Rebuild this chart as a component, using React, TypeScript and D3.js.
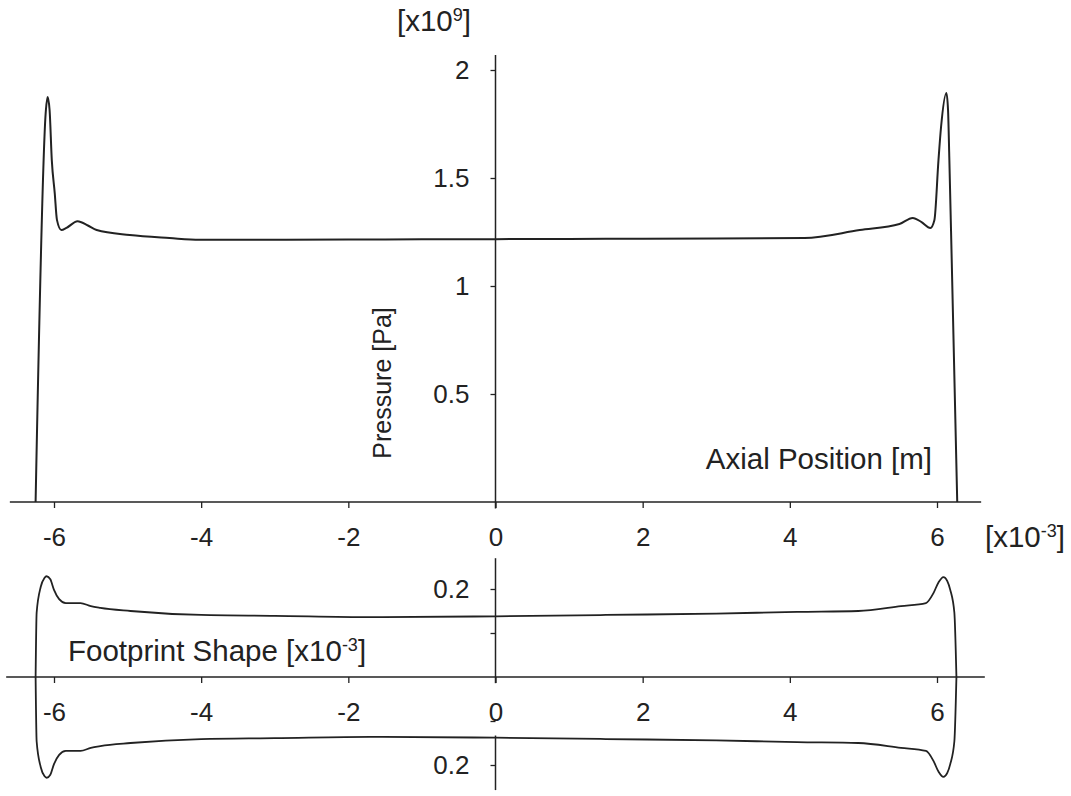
import React, { useRef, useEffect } from 'react';
import * as d3 from 'd3';

const W = 1071;
const H = 796;

// axial position [x10^-3 m] vs contact pressure [x10^9 Pa]
const pressureX = [
  -6.25, -6.11, -6.087, -6.06, -6.03, -5.99, -5.96, -5.9, -5.83, -5.68, -5.54, -5.42,
  -4.97, -4.43, -4.02, -3, -2, -1, 0, 1, 2, 3, 4.2, 4.95, 5.49, 5.67, 5.79, 5.91,
  5.965, 6.02, 6.055, 6.128, 6.15, 6.168, 6.2, 6.275,
];
const pressureY = [
  0, 1.815, 1.875, 1.815, 1.583, 1.43, 1.306, 1.259, 1.269, 1.3, 1.28, 1.259,
  1.236, 1.222, 1.214, 1.214, 1.215, 1.216, 1.217, 1.218, 1.219, 1.22, 1.222, 1.259, 1.287, 1.315, 1.296, 1.269,
  1.306, 1.583, 1.736, 1.894, 1.815, 1.583, 1.12, 0,
];

// footprint half width [x10^-3 m], drawn mirrored above and below
const footX = [
  -6.25, -6.236, -6.18, -6.13, -6.1, -6.05, -6.0, -5.93, -5.84, -5.64, -5.5, -5.37,
  -4.96, -4.0, -3.0, -1.7, 0, 1.5, 3, 4.1, 4.93, 5.51, 5.85, 5.95, 6.02, 6.087,
  6.14, 6.18, 6.236, 6.264,
];
const footHalf = [
  0, 0.146, 0.205, 0.225, 0.229, 0.222, 0.198, 0.177, 0.168, 0.168, 0.161, 0.157,
  0.15, 0.141, 0.139, 0.136, 0.138, 0.141, 0.144, 0.148, 0.15, 0.161, 0.168, 0.19, 0.215, 0.227,
  0.218, 0.198, 0.146, 0,
];

const xTicks = [-6, -4, -2, 0, 2, 4, 6];
const pressureTicks = [0.5, 1, 1.5, 2];
const footTicks = [-0.2, -0.1, 0.1, 0.2];

const FONT = '"Liberation Sans", Arial, Helvetica, sans-serif';
const INK = '#222';
const TICK_SIZE = 26;
const TITLE_SIZE = 29.5;

export default function App() {
  const ref = useRef<SVGSVGElement>(null);

  useEffect(() => {
    const svg = d3.select(ref.current);
    svg.selectAll('*').remove();

    const x = d3.scaleLinear().domain([-6, 6]).range([54, 937]);
    const yP = d3.scaleLinear().domain([0, 2]).range([502, 70]);
    const yF = d3.scaleLinear().domain([-0.2, 0.2]).range([765, 589]);

    svg.append('rect').attr('width', W).attr('height', H).attr('fill', '#fff');

    const axisLine = (x1: number, y1: number, x2: number, y2: number) =>
      svg.append('line')
        .attr('x1', x1).attr('y1', y1).attr('x2', x2).attr('y2', y2)
        .attr('stroke', INK).attr('stroke-width', 1.5);

    // axis lines
    axisLine(x(-6.6), yP(0), x(6.6), yP(0));
    axisLine(x(0), yP(-0.03), x(0), yP(2.07));
    axisLine(x(-6.65), yF(0), x(6.65), yF(0));
    // lower y axis is broken around the "0" label
    axisLine(x(0), yF(-0.014), x(0), yF(0.27));
    axisLine(x(0), yF(-0.133), x(0), yF(-0.257));

    const styleAxis = (g: any) => {
      g.select('.domain').remove();
      g.selectAll('line').attr('stroke', INK).attr('stroke-width', 1.3);
      g.selectAll('text').attr('fill', INK).style('font-family', FONT).style('font-size', TICK_SIZE + 'px');
    };

    svg.append('g')
      .attr('transform', `translate(0,${yP(0)})`)
      .call(d3.axisBottom(x).tickValues(xTicks).tickSize(6).tickPadding(20).tickFormat((d: any) => String(d)))
      .call(styleAxis);

    svg.append('g')
      .attr('transform', `translate(${x(0)},0)`)
      .call(d3.axisLeft(yP).tickValues(pressureTicks).tickSize(5).tickPadding(21).tickFormat((d: any) => String(d)))
      .call(styleAxis);

    svg.append('g')
      .attr('transform', `translate(0,${yF(0)})`)
      .call(d3.axisBottom(x).tickValues(xTicks).tickSize(6).tickPadding(20).tickFormat((d: any) => String(d)))
      .call(styleAxis);

    svg.append('g')
      .attr('transform', `translate(${x(0)},0)`)
      .call(d3.axisLeft(yF).tickValues(footTicks).tickSize(5).tickPadding(21)
        .tickFormat((d: any) => (Math.abs(d) > 0.15 ? '0.2' : '')))
      .call(styleAxis);

    // pressure curve
    const pLine = d3.line<number>()
      .x((d, i) => x(pressureX[i]))
      .y((d) => yP(d))
      .curve(d3.curveMonotoneX);
    svg.append('path')
      .attr('d', pLine(pressureY))
      .attr('fill', 'none').attr('stroke', INK).attr('stroke-width', 2)
      .attr('stroke-linejoin', 'round');

    // footprint outline, upper and lower edge
    [1, -1].forEach((s) => {
      const fLine = d3.line<number>()
        .x((d, i) => x(footX[i]))
        .y((d) => yF(s * d))
        .curve(d3.curveMonotoneX);
      svg.append('path')
        .attr('d', fLine(footHalf))
        .attr('fill', 'none').attr('stroke', INK).attr('stroke-width', 1.8)
        .attr('stroke-linejoin', 'round');
    });

    const label = (tx: number, ty: number, size: number, anchor = 'start') =>
      svg.append('text')
        .attr('x', tx).attr('y', ty)
        .attr('text-anchor', anchor)
        .attr('fill', INK)
        .style('font-family', FONT)
        .style('font-size', size + 'px');

    const withExp = (t: any, base: string, exp: string) => {
      t.append('tspan').text(base);
      t.append('tspan').attr('dy', -10).style('font-size', '18px').text(exp);
      t.append('tspan').attr('dy', 10).text(']');
    };

    withExp(label(397, 31, TITLE_SIZE), '[x10', '9');
    withExp(label(985, 547, TITLE_SIZE), '[x10', '-3');

    label(932, 469, TITLE_SIZE, 'end').text('Axial Position [m]');

    svg.append('text')
      .attr('transform', `translate(391,383) rotate(-90)`)
      .attr('text-anchor', 'middle')
      .attr('fill', INK)
      .style('font-family', FONT)
      .style('font-size', '25px')
      .text('Pressure [Pa]');

    withExp(label(68, 661, TITLE_SIZE), 'Footprint Shape [x10', '-3');
  }, []);

  return (
    <div style={{ position: 'absolute', left: 0, top: 0 }}>
      <svg ref={ref} width={W} height={H}></svg>
    </div>
  );
}
